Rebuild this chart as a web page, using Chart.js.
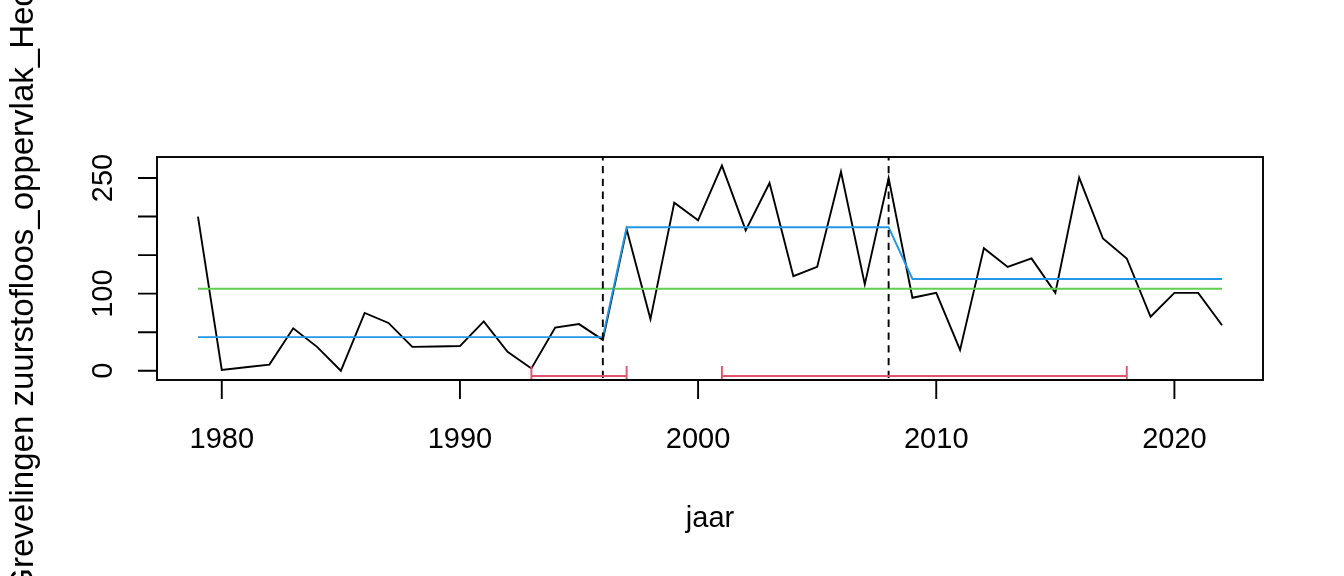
<!DOCTYPE html>
<html>
<head>
<meta charset="utf-8">
<script src="https://cdn.jsdelivr.net/npm/chart.js@4"></script>
<style>
  html, body { margin: 0; padding: 0; background: #fff; }
  canvas { display: block; }
</style>
</head>
<body>
<canvas id="myChart" width="1344" height="576"></canvas>
<script>
const jaren = [1979, 1980, 1981, 1982, 1983, 1984, 1985, 1986, 1987, 1988, 1989,
  1990, 1991, 1992, 1993, 1994, 1995, 1996, 1997, 1998, 1999, 2000, 2001, 2002,
  2003, 2004, 2005, 2006, 2007, 2008, 2009, 2010, 2011, 2012, 2013, 2014, 2015,
  2016, 2017, 2018, 2019, 2020, 2021, 2022];
const oppervlak = [200, 1, 4.5, 8, 55, 31, 0, 75, 62, 31, 31.5,
  32, 64, 24.6, 3, 56, 60.5, 40, 183.5, 67, 218, 195, 266, 182,
  243.5, 122.7, 134.7, 258, 112, 250, 94.6, 101, 27, 159, 134.7, 145.6, 101,
  250.5, 171.5, 145.6, 70, 101, 101, 59];

// segmenten tussen breekpunten
const segStart = [1979, 1997, 2009];
const segEind = [1996, 2008, 2022];
const segNiveau = [43.6, 186, 119];
const gemiddelde = 106.3;

// breekpunten en betrouwbaarheidsintervallen
const breekJaren = [1996, 2008];
const biLaag = [1993, 2001];
const biHoog = [1997, 2018];

// assen
const xTicks = [1980, 1990, 2000, 2010, 2020];
const yTicks = [0, 50, 100, 150, 200, 250];
const yLabels = [0, 100, 250];

const xMin = 1977.28, xMax = 2023.72;
const yMin = -12, yMax = 277.2;
const biY = -6.9, capHalf = 13;

const font = '"Liberation Sans", Arial, sans-serif';
const lw = 1.9;

const blauwLijn = [];
segStart.forEach((s, i) => {
  blauwLijn.push({ x: s, y: segNiveau[i] });
  blauwLijn.push({ x: segEind[i], y: segNiveau[i] });
});

const datasets = [
  {
    data: jaren.map((j, i) => ({ x: j, y: oppervlak[i] })),
    borderColor: '#000000',
    borderWidth: lw,
    order: 5
  },
  {
    data: blauwLijn,
    borderColor: '#2297E6',
    borderWidth: lw,
    order: 3
  },
  {
    data: [{ x: jaren[0], y: gemiddelde }, { x: jaren[jaren.length - 1], y: gemiddelde }],
    borderColor: '#61D04F',
    borderWidth: lw,
    order: 4
  }
];

breekJaren.forEach(b => {
  datasets.push({
    data: [{ x: b, y: yMax }, { x: b, y: yMin }],
    borderColor: '#000000',
    borderWidth: lw,
    borderDash: [7.3, 5.5],
    borderDashOffset: 3.8,
    order: 2
  });
});

biLaag.forEach((lo, i) => {
  const hi = biHoog[i];
  const rood = { borderColor: '#DF536B', borderWidth: lw, order: 1 };
  datasets.push({ ...rood, data: [{ x: lo, y: biY }, { x: hi, y: biY }] });
  datasets.push({ ...rood, data: [{ x: lo, y: biY - capHalf }, { x: lo, y: biY + capHalf }] });
  datasets.push({ ...rood, data: [{ x: hi, y: biY - capHalf }, { x: hi, y: biY + capHalf }] });
});

const assenPlugin = {
  id: 'assen',
  afterDraw(chart) {
    const c = chart.ctx;
    const a = chart.chartArea;
    const xs = chart.scales.x, ys = chart.scales.y;
    c.save();
    c.strokeStyle = '#000';
    c.fillStyle = '#000';
    c.lineWidth = lw;
    c.lineCap = 'butt';
    // kader
    c.strokeRect(a.left, a.top, a.right - a.left, a.bottom - a.top);

    // x-as
    c.font = '29px ' + font;
    c.textAlign = 'center';
    c.textBaseline = 'alphabetic';
    c.beginPath();
    c.moveTo(xs.getPixelForValue(xTicks[0]), a.bottom);
    c.lineTo(xs.getPixelForValue(xTicks[xTicks.length - 1]), a.bottom);
    xTicks.forEach(t => {
      const px = xs.getPixelForValue(t);
      c.moveTo(px, a.bottom);
      c.lineTo(px, a.bottom + 19);
    });
    c.stroke();
    xTicks.forEach(t => {
      c.fillText(String(t), xs.getPixelForValue(t), 448);
    });

    // y-as
    c.beginPath();
    c.moveTo(a.left, ys.getPixelForValue(yTicks[0]));
    c.lineTo(a.left, ys.getPixelForValue(yTicks[yTicks.length - 1]));
    yTicks.forEach(t => {
      const py = ys.getPixelForValue(t);
      c.moveTo(a.left, py);
      c.lineTo(a.left - 19, py);
    });
    c.stroke();
    yLabels.forEach(t => {
      const py = ys.getPixelForValue(t);
      c.save();
      c.translate(112, py);
      c.rotate(-Math.PI / 2);
      c.fillText(String(t), 0, 0);
      c.restore();
    });

    // astitels
    c.fillText('jaar', (a.left + a.right) / 2, 527);
    c.save();
    c.font = '33px ' + font;
    c.translate(33, (a.top + a.bottom) / 2 - 5);
    c.rotate(-Math.PI / 2);
    c.fillText('Grevelingen zuurstofloos_oppervlak_Hectare', 0, 0);
    c.restore();
    c.restore();
  }
};

new Chart(document.getElementById('myChart'), {
  type: 'line',
  data: { datasets: datasets },
  options: {
    responsive: false,
    animation: false,
    devicePixelRatio: 1,
    layout: {
      padding: { left: 157, right: 81, top: 157, bottom: 196 }
    },
    elements: {
      point: { radius: 0, hoverRadius: 0 },
      line: { tension: 0, fill: false }
    },
    scales: {
      x: { type: 'linear', min: xMin, max: xMax, display: false },
      y: { type: 'linear', min: yMin, max: yMax, display: false }
    },
    plugins: {
      legend: { display: false },
      tooltip: { enabled: false }
    }
  },
  plugins: [assenPlugin]
});
</script>
</body>
</html>
